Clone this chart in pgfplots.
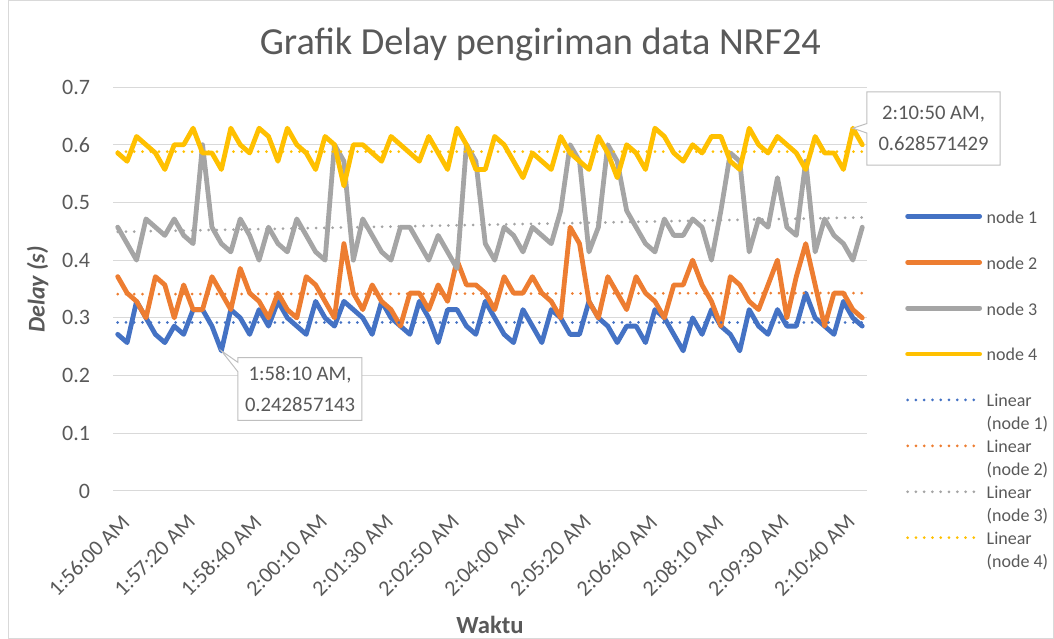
\documentclass[border=0pt]{standalone}
\usepackage{pgfplots}
\pgfplotsset{compat=1.18}
\usepackage{pgfplotstable}
\usepackage{fontspec}
\setmainfont{Carlito}
\usetikzlibrary{shapes.callouts}
\definecolor{cblue}{HTML}{4472C4}
\definecolor{corange}{HTML}{ED7D31}
\definecolor{cgray}{HTML}{A5A5A5}
\definecolor{cyellow}{HTML}{FFC000}
\definecolor{ctext}{HTML}{595959}
\definecolor{cgrid}{HTML}{D9D9D9}
\definecolor{cbox}{HTML}{BFBFBF}

\pgfplotstableread{
i n1 n2 n3 n4
0 0.2714 0.3714 0.4571 0.5857
1 0.2571 0.3429 0.4286 0.5714
2 0.3286 0.3286 0.4000 0.6143
3 0.3000 0.3000 0.4714 0.6000
4 0.2714 0.3714 0.4571 0.5857
5 0.2571 0.3571 0.4429 0.5571
6 0.2857 0.3000 0.4714 0.6000
7 0.2714 0.3571 0.4429 0.6000
8 0.3143 0.3143 0.4286 0.6286
9 0.3143 0.3143 0.6000 0.5857
10 0.2857 0.3714 0.4571 0.5857
11 0.2429 0.3429 0.4286 0.5571
12 0.3143 0.3143 0.4143 0.6286
13 0.3000 0.3857 0.4714 0.6000
14 0.2714 0.3429 0.4429 0.5857
15 0.3143 0.3286 0.4000 0.6286
16 0.2857 0.3000 0.4571 0.6143
17 0.3286 0.3429 0.4286 0.5714
18 0.3000 0.3143 0.4143 0.6286
19 0.2857 0.3000 0.4714 0.6000
20 0.2714 0.3714 0.4429 0.5857
21 0.3286 0.3571 0.4143 0.5571
22 0.3000 0.3286 0.4000 0.6143
23 0.2857 0.3000 0.6000 0.6000
24 0.3286 0.4286 0.5714 0.5286
25 0.3143 0.3429 0.4000 0.6000
26 0.3000 0.3143 0.4714 0.6000
27 0.2714 0.3571 0.4429 0.5857
28 0.3286 0.3286 0.4143 0.5714
29 0.3000 0.3143 0.4000 0.6143
30 0.2857 0.2857 0.4571 0.6000
31 0.2714 0.3429 0.4571 0.5857
32 0.3286 0.3429 0.4286 0.5714
33 0.3000 0.3143 0.4000 0.6143
34 0.2571 0.3571 0.4429 0.5857
35 0.3143 0.3286 0.4143 0.5571
36 0.3143 0.4000 0.3857 0.6286
37 0.2857 0.3571 0.6000 0.6000
38 0.2714 0.3571 0.5714 0.5571
39 0.3286 0.3429 0.4286 0.5571
40 0.3000 0.3143 0.4000 0.6143
41 0.2714 0.3714 0.4571 0.6000
42 0.2571 0.3429 0.4429 0.5714
43 0.3143 0.3429 0.4143 0.5429
44 0.2857 0.3714 0.4571 0.5857
45 0.2571 0.3429 0.4429 0.5714
46 0.3143 0.3286 0.4286 0.5571
47 0.3000 0.3000 0.4857 0.6143
48 0.2714 0.4571 0.6000 0.5857
49 0.2714 0.4286 0.5714 0.5714
50 0.3286 0.3286 0.4143 0.5571
51 0.3000 0.3000 0.4571 0.6143
52 0.2857 0.3714 0.6000 0.5857
53 0.2571 0.3429 0.5714 0.5429
54 0.2857 0.3143 0.4857 0.6000
55 0.2857 0.3714 0.4571 0.5857
56 0.2571 0.3429 0.4286 0.5571
57 0.3143 0.3286 0.4143 0.6286
58 0.3000 0.3000 0.4714 0.6143
59 0.2714 0.3571 0.4429 0.5857
60 0.2429 0.3571 0.4429 0.5714
61 0.3000 0.4000 0.4714 0.6000
62 0.2714 0.3571 0.4571 0.5857
63 0.3143 0.3286 0.4000 0.6143
64 0.2857 0.2857 0.4857 0.6143
65 0.2714 0.3714 0.5857 0.5714
66 0.2429 0.3571 0.5714 0.5571
67 0.3143 0.3286 0.4143 0.6286
68 0.2857 0.3143 0.4714 0.6000
69 0.2714 0.3571 0.4571 0.5857
70 0.3143 0.4000 0.5429 0.6143
71 0.2857 0.3000 0.4571 0.6000
72 0.2857 0.3714 0.4429 0.5857
73 0.3429 0.4286 0.5714 0.5571
74 0.3000 0.3571 0.4143 0.6143
75 0.2857 0.2857 0.4714 0.5857
76 0.2714 0.3429 0.4429 0.5857
77 0.3286 0.3429 0.4286 0.5571
78 0.3000 0.3143 0.4000 0.6286
79 0.2857 0.3000 0.4571 0.6000
}\datatable

\newcommand\lin[1]{\strut\smash{\begin{tabular}[t]{@{}l@{}}Linear\\(node #1)\end{tabular}}}

\begin{document}
\begin{tikzpicture}
\path[use as bounding box] (0,0) rectangle (790.5pt,479.25pt);
\draw[cgrid, line width=0.75pt] (6pt,0.4pt) rectangle (790.1pt,478.85pt);
\begin{axis}[
  at={(84.75pt,111pt)}, anchor=south west,
  scale only axis, width=565.5pt, height=303pt,
  xmin=-0.5, xmax=79.5, ymin=0, ymax=0.7,
  ytick={0,0.1,0.2,0.3,0.4,0.5,0.6,0.7},
  yticklabels={0,0.1,0.2,0.3,0.4,0.5,0.6,0.7},
  xtick={0,7,14,21,28,35,42,49,56,63,70,77},
  xticklabels={1:56:00 AM,1:57:20 AM,1:58:40 AM,2:00:10 AM,2:01:30 AM,2:02:50 AM,2:04:00 AM,2:05:20 AM,2:06:40 AM,2:08:10 AM,2:09:30 AM,2:10:40 AM},
  axis line style={draw=none},
  major tick length=0pt,
  ymajorgrids, grid style={cgrid, line width=0.75pt},
  tick label style={font=\fontsize{16.5}{19}\selectfont, text=ctext},
  yticklabel style={anchor=east, inner sep=0pt, xshift=-17pt},
  xticklabel style={xshift=2pt, yshift=-16.5pt, rotate=45, anchor=north east, inner sep=0pt},
  title={Grafik Delay pengiriman data NRF24},
  title style={at={(axis description cs:0.5668,1.061)}, anchor=base, font=\fontsize{28.7}{32}\selectfont, text=ctext, inner sep=0pt},
  xlabel={Waktu},
  xlabel style={at={(axis description cs:0.5,-0.3317)}, anchor=center, font=\bfseries\fontsize{18.5}{22}\selectfont, text=ctext},
  ylabel={Delay (s)},
  ylabel style={at={(axis description cs:-0.1001,0.4988)}, anchor=center, font=\bfseries\itshape\fontsize{18}{22}\selectfont, text=ctext},
  clip=false,
  legend image code/.code={\draw[#1] (0pt,0pt) -- (54pt,0pt);},
  legend cell align=left,
  legend style={at={(axis description cs:1.0504,0.2822)}, anchor=west, draw=none, fill=none, inner sep=0pt, font=\fontsize{13.5}{16.9}\selectfont, text=ctext, row sep=21.1pt, column sep=3.5pt, nodes={inner sep=0pt}},
  every axis plot/.append style={line width=3.6pt, line join=round, line cap=round},
  trend/.style={line width=2.25pt, dash pattern=on 0pt off 6.2pt, line cap=round},
]
\addplot[cblue] table[x=i, y=n1] {\datatable}; \addlegendentry{\strut node 1}
\addplot[corange] table[x=i, y=n2] {\datatable}; \addlegendentry{\strut node 2}
\addplot[cgray] table[x=i, y=n3] {\datatable}; \addlegendentry{\strut node 3}
\addplot[cyellow] table[x=i, y=n4] {\datatable}; \addlegendentry{\strut node 4}
\addplot[cblue, trend] coordinates {(0,0.292) (79,0.292)}; \addlegendentry{\lin{1}}
\addplot[corange, trend] coordinates {(0,0.341) (79,0.343)}; \addlegendentry{\lin{2}}
\addplot[cgray, trend] coordinates {(0,0.449) (79,0.474)}; \addlegendentry{\lin{3}}
\addplot[cyellow, trend] coordinates {(0,0.588) (79,0.588)}; \addlegendentry{\lin{4}}
\node[rectangle callout, draw=cbox, line width=0.75pt, fill=white, text=ctext, align=center, font=\fontsize{15.5}{23}\selectfont, minimum width=93pt, minimum height=47pt, inner sep=2pt, callout absolute pointer={(axis cs:11,0.242857)}] at (rel axis cs:0.248,0.2525) {1:58:10 AM,\\0.242857143};
\node[rectangle callout, draw=cbox, line width=0.75pt, fill=white, text=ctext, align=center, font=\fontsize{15.5}{23}\selectfont, minimum width=100pt, minimum height=55pt, inner sep=2pt, callout absolute pointer={(axis cs:78,0.628571)}] at (rel axis cs:1.0882,0.8973) {2:10:50 AM,\\0.628571429};
\end{axis}
\end{tikzpicture}
\end{document}
